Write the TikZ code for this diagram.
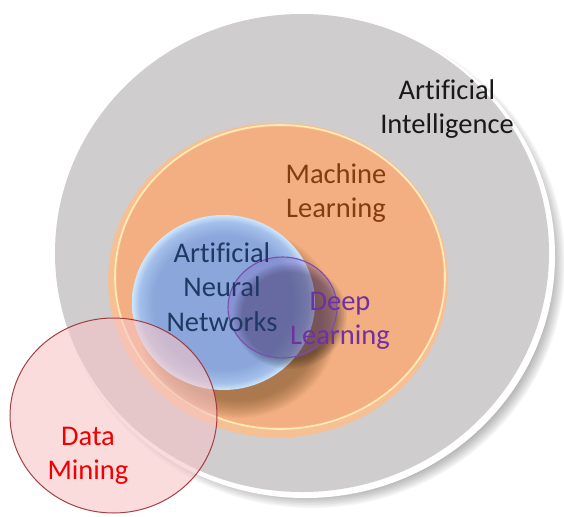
\documentclass[tikz,border=0pt]{standalone}
\usepackage{fontspec}
\setmainfont{Carlito}[Ligatures={NoCommon}]
\definecolor{grayF}{HTML}{CFCDCE}
\definecolor{orangeF}{HTML}{F3AF82}
\definecolor{orangeO}{HTML}{F7C094}
\definecolor{ringY}{HTML}{FFEDB5}
\definecolor{blueC}{HTML}{8AA6DA}
\definecolor{blueM}{HTML}{A3BFEA}
\definecolor{blueR}{HTML}{CFE6FB}
\definecolor{purpL}{HTML}{7B4DB0}
\definecolor{purpF}{HTML}{8060C0}
\definecolor{redL}{HTML}{9E2E33}
\definecolor{pinkF}{HTML}{F6C4C6}
\definecolor{tNavy}{HTML}{1F3864}
\definecolor{tBrown}{HTML}{843C0C}
\definecolor{tPurp}{HTML}{7030A0}
\definecolor{tRed}{HTML}{F00000}
\pgfdeclareradialshading{bluerim}{\pgfpoint{0bp}{0bp}}{color(0bp)=(blueC); color(19bp)=(blueC); color(23bp)=(blueM); color(25bp)=(blueR); color(50bp)=(blueR)}
\tikzset{
  lbl/.style={font=\fontsize{28.5}{34.5}\selectfont, align=center, inner sep=0pt},
  softshadow/.style={fill=#1, opacity=0.05, draw=none}
}
\begin{document}
\begin{tikzpicture}[x=1pt,y=-1pt]
\useasboundingbox (0,0) rectangle (564,516);
% AI disc: shadow, white bevel, gray
\foreach \k in {0,...,9}
  \fill[softshadow=black, opacity=0.04] (312,263) ellipse [x radius={253pt-1.6pt*\k}, y radius={245pt-1.6pt*\k}];
\fill[white] (305,256) ellipse [x radius=250pt, y radius=242pt];
\fill[grayF] (302,253) ellipse [x radius=247pt, y radius=239pt];
% Machine learning disc
\fill[orangeO] (278,280) ellipse [x radius=170pt, y radius=157.5pt];
\draw[ringY, line width=1.6pt] (280,277) ellipse [x radius=165pt, y radius=152pt];
\fill[orangeF] (280,277) ellipse [x radius=163.5pt, y radius=150.5pt];
% shadow under ANN disc
\foreach \k in {0,...,11}
  \fill[softshadow=brown!60!black, opacity=0.06] (238,322) ellipse [x radius={100pt-1.6pt*\k}, y radius={96pt-1.6pt*\k}];
% ANN disc
\shade[shading=bluerim] (223.5,302.5) ellipse [x radius=91.5pt, y radius=87.5pt];
% shadow under DL disc
\foreach \k in {0,...,6}
  \fill[softshadow=black] (290,316) ellipse [x radius={57pt-1.5pt*\k}, y radius={53pt-1.5pt*\k}];
% DL disc
\fill[purpF, opacity=0.28] (282.5,307.5) ellipse [x radius=54.5pt, y radius=50.5pt];
\draw[purpL, line width=1.1pt] (282.5,307.5) ellipse [x radius=54.5pt, y radius=50.5pt];
% Data mining disc
\fill[pinkF, opacity=0.6] (113.5,415.5) ellipse [x radius=103.5pt, y radius=97.5pt];
\draw[redL, line width=1pt, opacity=0.9] (113.5,415.5) ellipse [x radius=103.5pt, y radius=97.5pt];
% labels
\node[lbl, text=black!90] (ai) at (447,109) {Artificial\\Intelligence};
\node[lbl, text=tBrown] (ml) at (336,193) {Machine\\Learning};
\node[lbl, text=tNavy] (ann) at (222,287) {Artificial\\Neural\\Networks};
\node[lbl, text=tPurp] (dl) at (340,321) {Deep\\Learning};
\node[lbl, text=tRed] (dm) at (88,456) {Data\\Mining};
\end{tikzpicture}
\end{document}
